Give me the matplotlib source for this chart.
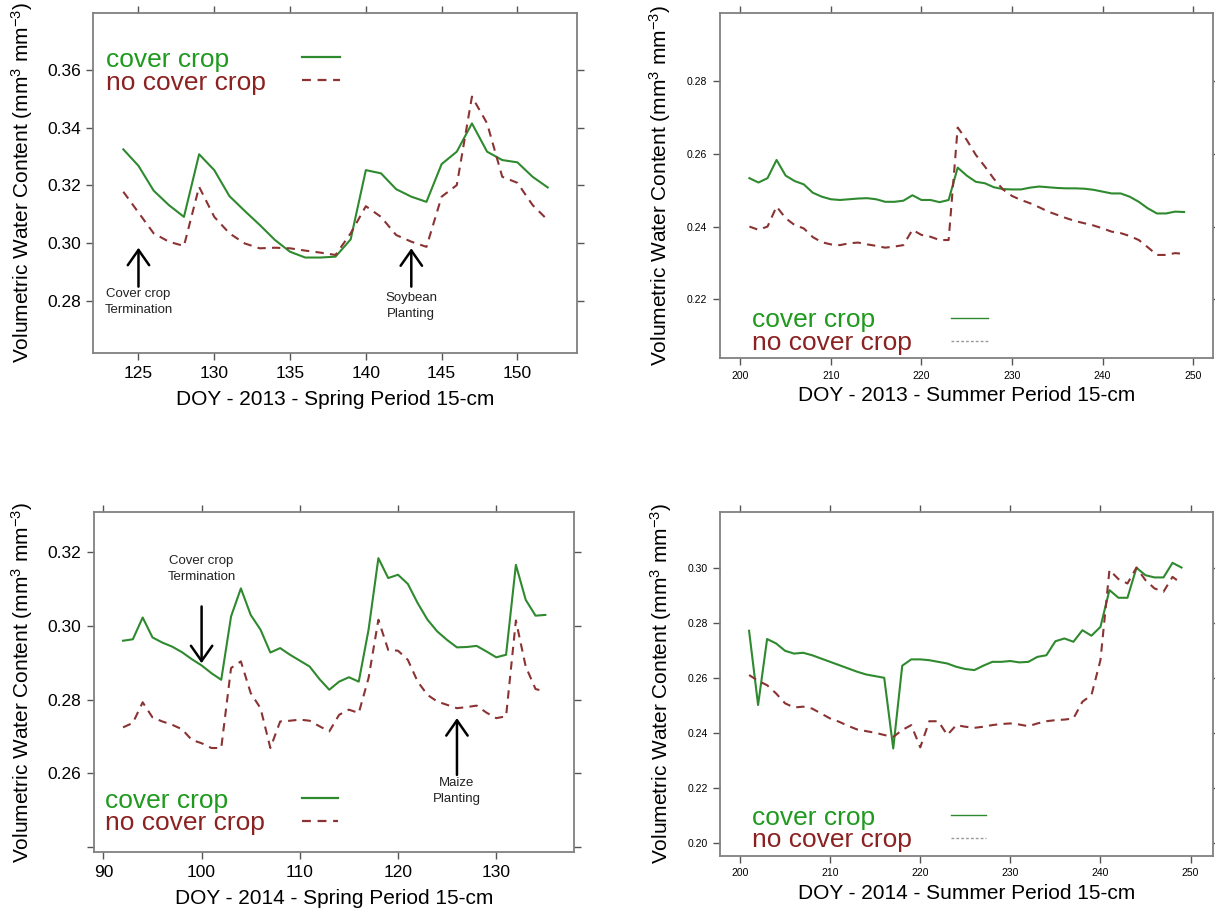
import numpy as np
import matplotlib
matplotlib.use('Agg')
import matplotlib.pyplot as plt

plt.rcParams['font.family'] = ['Liberation Sans', 'DejaVu Sans']
plt.rcParams['mathtext.default'] = 'regular'

# --- 2013 spring (DOY 124-152) ---
doy_sp13 = np.arange(124, 153)
cc_sp13 = [0.3325, 0.3268, 0.3182, 0.3132, 0.3091, 0.3308, 0.3253, 0.3163, 0.3112, 0.3063,
           0.3011, 0.2970, 0.2950, 0.2950, 0.2953, 0.3013, 0.3253, 0.3242, 0.3187, 0.3161,
           0.3143, 0.3274, 0.3317, 0.3415, 0.3317, 0.3288, 0.3280, 0.3230, 0.3193]
ncc_sp13 = [0.3178, 0.3106, 0.3034, 0.3005, 0.2990, 0.3195, 0.3091, 0.3034, 0.2999, 0.2982,
            0.2984, 0.2982, 0.2974, 0.2967, 0.2959, 0.3034, 0.3128, 0.3091, 0.3028, 0.3005,
            0.2987, 0.3161, 0.3201, 0.3508, 0.3415, 0.3230, 0.3209, 0.3132, 0.3080]

# --- 2013 summer (DOY 201-249) ---
doy_su13 = np.arange(201, 250)
cc_su13 = [0.2533, 0.2521, 0.2533, 0.2583, 0.2540, 0.2525, 0.2516, 0.2493, 0.2482, 0.2475,
           0.2473, 0.2475, 0.2477, 0.2478, 0.2475, 0.2468, 0.2468, 0.2471, 0.2486, 0.2473,
           0.2473, 0.2467, 0.2473, 0.2562, 0.2540, 0.2523, 0.2519, 0.2508, 0.2503, 0.2502,
           0.2502, 0.2507, 0.2510, 0.2508, 0.2506, 0.2505, 0.2505, 0.2504, 0.2501, 0.2496,
           0.2491, 0.2491, 0.2482, 0.2468, 0.2450, 0.2436, 0.2436, 0.2441, 0.2440]
ncc_su13 = [0.2400, 0.2391, 0.2400, 0.2455, 0.2423, 0.2404, 0.2395, 0.2371, 0.2357, 0.2351,
            0.2349, 0.2354, 0.2356, 0.2351, 0.2347, 0.2342, 0.2345, 0.2349, 0.2391, 0.2377,
            0.2372, 0.2363, 0.2363, 0.2672, 0.2638, 0.2597, 0.2565, 0.2531, 0.2502, 0.2484,
            0.2473, 0.2464, 0.2453, 0.2441, 0.2432, 0.2423, 0.2415, 0.2409, 0.2403, 0.2395,
            0.2386, 0.2382, 0.2374, 0.2363, 0.2343, 0.2322, 0.2322, 0.2327, 0.2325]

# --- 2014 spring (DOY 92-135) ---
doy_sp14 = np.arange(92, 136)
cc_sp14 = [0.2960, 0.2964, 0.3023, 0.2969, 0.2955, 0.2944, 0.2929, 0.2910, 0.2893, 0.2872,
           0.2854, 0.3026, 0.3102, 0.3030, 0.2990, 0.2928, 0.2940, 0.2922, 0.2906, 0.2890,
           0.2856, 0.2827, 0.2849, 0.2861, 0.2849, 0.2990, 0.3184, 0.3130, 0.3139, 0.3114,
           0.3062, 0.3017, 0.2985, 0.2962, 0.2942, 0.2943, 0.2946, 0.2931, 0.2915, 0.2922,
           0.3166, 0.3071, 0.3028, 0.3030]
ncc_sp14 = [0.2725, 0.2737, 0.2793, 0.2752, 0.2741, 0.2732, 0.2720, 0.2691, 0.2682, 0.2669,
            0.2669, 0.2886, 0.2904, 0.2818, 0.2777, 0.2669, 0.2741, 0.2743, 0.2746, 0.2743,
            0.2728, 0.2714, 0.2759, 0.2773, 0.2764, 0.2859, 0.3017, 0.2935, 0.2933, 0.2908,
            0.2849, 0.2813, 0.2795, 0.2786, 0.2777, 0.2780, 0.2784, 0.2765, 0.2750, 0.2755,
            0.3015, 0.2890, 0.2829, 0.2822]

# --- 2014 summer (DOY 201-249) ---
doy_su14 = np.arange(201, 250)
cc_su14 = [0.2771, 0.2501, 0.2741, 0.2725, 0.2698, 0.2688, 0.2691, 0.2682, 0.2670, 0.2658,
           0.2646, 0.2634, 0.2622, 0.2612, 0.2606, 0.2600, 0.2343, 0.2644, 0.2667, 0.2667,
           0.2664, 0.2658, 0.2652, 0.2640, 0.2632, 0.2628, 0.2644, 0.2658, 0.2658, 0.2661,
           0.2656, 0.2658, 0.2676, 0.2682, 0.2733, 0.2743, 0.2731, 0.2773, 0.2753, 0.2785,
           0.2919, 0.2891, 0.2891, 0.3000, 0.2973, 0.2965, 0.2965, 0.3018, 0.3001]
ncc_su14 = [0.2610, 0.2589, 0.2573, 0.2543, 0.2507, 0.2492, 0.2495, 0.2488, 0.2470, 0.2452,
            0.2440, 0.2425, 0.2412, 0.2406, 0.2400, 0.2392, 0.2385, 0.2410, 0.2428, 0.2347,
            0.2442, 0.2442, 0.2392, 0.2428, 0.2422, 0.2418, 0.2422, 0.2428, 0.2432, 0.2434,
            0.2430, 0.2424, 0.2434, 0.2442, 0.2446, 0.2448, 0.2452, 0.2513, 0.2537, 0.2664,
            0.2992, 0.2959, 0.2943, 0.3001, 0.2955, 0.2925, 0.2913, 0.2967, 0.2943]

line_green = '#2f8a2f'
line_red = '#8b3333'
text_green = '#1f9a1f'
text_red = '#8b2222'
spine_col = '#808080'
ylab = 'Volumetric Water Content (mm$^3$ mm$^{-3}$)'

fig = plt.figure(figsize=(12.15, 9.11), dpi=100)


def setup(ax, x, cc, ncc, xlim, ylim, xticks, yticks, yticklabels, xlabel,
          tick_fs, lw, ylab_x, xlab_y):
    ax.plot(x, cc, color=line_green, lw=lw)
    ax.plot(x, ncc, color=line_red, lw=lw, dashes=(4, 3))
    ax.set_xlim(*xlim)
    ax.set_ylim(*ylim)
    ax.set_xticks(xticks)
    ax.set_yticks(yticks)
    ax.set_yticklabels(yticklabels)
    for s in ax.spines.values():
        s.set_color(spine_col)
        s.set_linewidth(1.3)
    ax.tick_params(direction='out', length=5, width=1, color='#555555',
                   top=True, right=True, labelsize=tick_fs, pad=4)
    ax.set_ylabel(ylab, fontsize=15)
    ax.yaxis.set_label_coords(ylab_x, 0.5)
    ax.set_xlabel(xlabel, fontsize=15)
    ax.xaxis.set_label_coords(0.5, xlab_y)


def legend(ax, tx, ty1, ty2, lx0, lx1, ly1, ly2, thin=False):
    ax.text(tx, ty1, 'cover crop', color=text_green, fontsize=19,
            transform=ax.transAxes, va='center', ha='left')
    ax.text(tx, ty2, 'no cover crop', color=text_red, fontsize=19,
            transform=ax.transAxes, va='center', ha='left')
    if thin:
        ax.plot([lx0, lx1], [ly1, ly1], color=line_green, lw=1, transform=ax.transAxes)
        ax.plot([lx0, lx1], [ly2, ly2], color='#999999', lw=1, dashes=(2, 1.5),
                transform=ax.transAxes)
    else:
        ax.plot([lx0, lx1], [ly1, ly1], color=line_green, lw=1.6, transform=ax.transAxes)
        ax.plot([lx0, lx1], [ly2, ly2], color=line_red, lw=1.6, dashes=(4, 3),
                transform=ax.transAxes)


arrow_props = dict(arrowstyle='->, head_length=0.5, head_width=0.35',
                   lw=1.8, color='black', mutation_scale=22, shrinkA=0, shrinkB=0)


def arrow(ax, x, tip, tail, label, ty):
    ax.annotate('', xy=(x, tip), xytext=(x, tail), arrowprops=arrow_props)
    ax.text(x, ty, label, ha='center', va='top', fontsize=9.5, color='#222222',
            linespacing=1.45)


# top-left
ax1 = fig.add_axes([0.0768, 0.6122, 0.3977, 0.3739])
setup(ax1, doy_sp13, cc_sp13, ncc_sp13, (122.02, 153.9), (0.2618, 0.3799),
      [125, 130, 135, 140, 145, 150], [0.28, 0.30, 0.32, 0.34, 0.36],
      ['0.28', '0.30', '0.32', '0.34', '0.36'],
      'DOY - 2013 - Spring Period 15-cm', 12.5, 1.5, -0.121, -0.108)
legend(ax1, 0.026, 0.861, 0.794, 0.432, 0.511, 0.869, 0.802)
arrow(ax1, 125, 0.2984, 0.2849, 'Cover crop\nTermination', 0.2845)
arrow(ax1, 143, 0.2982, 0.2849, 'Soybean\nPlanting', 0.2830)

# top-right
ax2 = fig.add_axes([0.5922, 0.6067, 0.4062, 0.3787])
setup(ax2, doy_su13, cc_su13, ncc_su13, (197.7, 252.2), (0.2038, 0.2986),
      [200, 210, 220, 230, 240, 250], [0.22, 0.24, 0.26, 0.28],
      ['0.22', '0.24', '0.26', '0.28'],
      'DOY - 2013 - Summer Period 15-cm', 7.5, 1.5, -0.094, -0.080)
legend(ax2, 0.066, 0.111, 0.045, 0.469, 0.544, 0.118, 0.051, thin=True)

# bottom-left
ax3 = fig.add_axes([0.0770, 0.0644, 0.3953, 0.3739])
setup(ax3, doy_sp14, cc_sp14, ncc_sp14, (89.0, 137.9), (0.2386, 0.3310),
      [90, 100, 110, 120, 130], [0.24, 0.26, 0.28, 0.30, 0.32],
      ['', '0.26', '0.28', '0.30', '0.32'],
      'DOY - 2014 - Spring Period 15-cm', 12.5, 1.5, -0.121, -0.108)
legend(ax3, 0.024, 0.1515, 0.085, 0.434, 0.509, 0.1585, 0.092)
ax3.annotate('', xy=(100, 0.2899), xytext=(100, 0.3053), arrowprops=arrow_props)
ax3.text(100, 0.3192, 'Cover crop\nTermination', ha='center', va='top',
         fontsize=9.5, color='#222222', linespacing=1.45)
arrow(ax3, 126, 0.2750, 0.2596, 'Maize\nPlanting', 0.2590)

# bottom-right
ax4 = fig.add_axes([0.5928, 0.0604, 0.4056, 0.3779])
setup(ax4, doy_su14, cc_su14, ncc_su14, (197.8, 252.5), (0.1952, 0.3204),
      [200, 210, 220, 230, 240, 250], [0.20, 0.22, 0.24, 0.26, 0.28, 0.30],
      ['0.20', '0.22', '0.24', '0.26', '0.28', '0.30'],
      'DOY - 2014 - Summer Period 15-cm', 7.5, 1.5, -0.094, -0.081)
legend(ax4, 0.0645, 0.1095, 0.0465, 0.468, 0.540, 0.118, 0.052, thin=True)

fig.savefig('out.png', dpi=100)
